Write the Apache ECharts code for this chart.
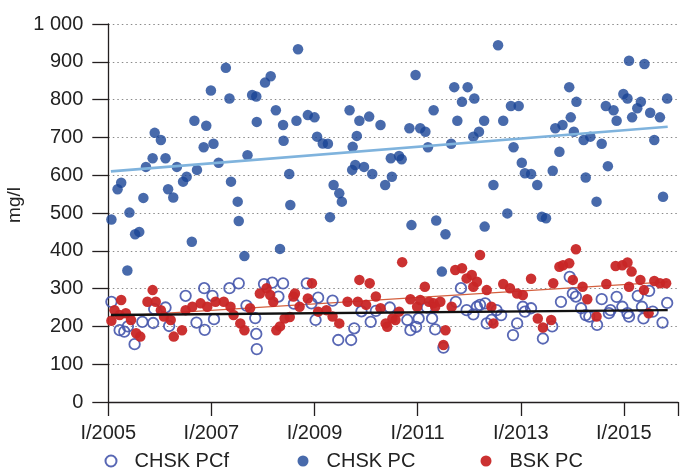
<!DOCTYPE html>
<html>
<head>
<meta charset="utf-8">
<script src="https://cdn.jsdelivr.net/npm/echarts@6/dist/echarts.min.js"></script>
<style>
html,body{margin:0;padding:0;background:#fff;}
#chart{width:681px;height:472px;}
</style>
</head>
<body>
<div id="chart"></div>
<script>
// ---- data (decimal year, mg/l) ----
const baseYear = 2005;
const xTickYears = [2005, 2007, 2009, 2011, 2013, 2015];
const yTickLabels = {0:'0',100:'100',200:'200',300:'300',400:'400',500:'500',600:'600',700:'700',800:'800',900:'900',1000:'1 000'};
const seriesNames = ['CHSK PCf', 'CHSK PC', 'BSK PC'];

const chskPC = [
[2005.06,483],[2005.18,563],[2005.25,580],[2005.37,348],[2005.41,501],[2005.52,444],[2005.60,450],[2005.68,540],
[2005.73,622],[2005.86,645],[2005.90,712],[2006.02,693],[2006.11,645],[2006.16,563],[2006.26,541],[2006.33,622],
[2006.45,583],[2006.52,596],[2006.62,424],[2006.67,744],[2006.72,614],[2006.85,674],[2006.90,731],[2006.99,824],
[2007.04,683],[2007.14,633],[2007.28,884],[2007.35,803],[2007.38,583],[2007.51,530],[2007.53,479],[2007.64,386],
[2007.70,653],[2007.79,812],[2007.87,808],[2007.88,741],[2008.04,845],[2008.15,862],[2008.25,772],[2008.33,405],
[2008.39,733],[2008.40,691],[2008.51,603],[2008.53,521],[2008.65,744],[2008.68,933],[2008.87,759],[2009.00,753],
[2009.05,702],[2009.16,684],[2009.26,683],[2009.30,489],[2009.37,574],[2009.48,552],[2009.53,530],[2009.68,772],
[2009.73,614],[2009.74,675],[2009.79,627],[2009.82,704],[2009.87,744],[2009.96,622],[2010.06,755],[2010.12,603],
[2010.28,733],[2010.37,574],[2010.48,645],[2010.50,596],[2010.64,651],[2010.69,642],[2010.84,724],[2010.88,468],
[2010.96,865],[2011.05,724],[2011.15,715],[2011.20,674],[2011.31,772],[2011.36,480],[2011.47,345],[2011.54,444],
[2011.65,683],[2011.71,833],[2011.77,744],[2011.86,794],[2011.97,833],[2012.08,702],[2012.10,803],[2012.19,715],
[2012.29,744],[2012.30,464],[2012.47,574],[2012.56,944],[2012.66,744],[2012.74,499],[2012.81,783],[2012.86,674],
[2012.96,783],[2013.02,633],[2013.08,605],[2013.20,603],[2013.32,574],[2013.41,490],[2013.49,486],[2013.62,612],
[2013.67,724],[2013.75,662],[2013.81,733],[2013.94,833],[2013.97,753],[2014.03,715],[2014.08,794],[2014.22,693],
[2014.26,594],[2014.35,702],[2014.47,530],[2014.57,683],[2014.65,783],[2014.69,624],[2014.80,772],[2014.86,744],
[2014.99,815],[2015.07,803],[2015.10,903],[2015.16,753],[2015.26,777],[2015.33,794],[2015.40,894],[2015.51,765],
[2015.59,693],[2015.70,753],[2015.76,543],[2015.84,803]
];

const chskPCf = [
[2005.06,265],[2005.22,190],[2005.31,186],[2005.38,200],[2005.51,153],[2005.66,212],[2005.87,209],[2005.89,246],
[2006.11,250],[2006.18,201],[2006.50,281],[2006.71,210],[2006.86,301],[2006.87,191],[2007.02,281],[2007.05,219],
[2007.35,301],[2007.53,314],[2007.68,255],[2007.85,222],[2007.87,180],[2007.88,140],[2008.02,312],[2008.18,316],
[2008.30,279],[2008.39,314],[2008.60,260],[2008.85,314],[2008.94,261],[2009.02,217],[2009.07,276],[2009.35,268],
[2009.46,164],[2009.71,164],[2009.77,195],[2009.91,240],[2010.09,212],[2010.19,241],[2010.46,250],[2010.80,217],
[2010.86,190],[2010.97,199],[2011.02,221],[2011.18,250],[2011.28,221],[2011.34,192],[2011.50,144],[2011.74,265],
[2011.84,301],[2011.95,243],[2012.08,232],[2012.15,252],[2012.21,257],[2012.31,261],[2012.34,208],[2012.43,217],
[2012.53,243],[2012.62,230],[2012.85,177],[2012.93,208],[2013.04,252],[2013.08,239],[2013.20,248],[2013.43,168],
[2013.61,200],[2013.78,265],[2013.95,331],[2014.01,287],[2014.07,279],[2014.17,248],[2014.26,230],[2014.33,226],
[2014.48,204],[2014.57,272],[2014.71,235],[2014.74,243],[2014.86,278],[2014.97,252],[2015.07,235],[2015.10,226],
[2015.27,281],[2015.35,252],[2015.38,221],[2015.49,294],[2015.56,239],[2015.75,210],[2015.84,262]
];

const bskPC = [
[2005.06,215],[2005.12,243],[2005.22,230],[2005.25,270],[2005.34,235],[2005.44,217],[2005.54,182],[2005.62,173],
[2005.76,265],[2005.86,296],[2005.92,265],[2006.02,243],[2006.08,226],[2006.21,217],[2006.27,173],[2006.43,190],
[2006.50,243],[2006.63,252],[2006.79,261],[2006.92,252],[2007.08,265],[2007.24,265],[2007.37,252],[2007.43,230],
[2007.56,208],[2007.64,190],[2007.75,248],[2007.94,287],[2008.07,301],[2008.14,283],[2008.20,265],[2008.26,190],
[2008.33,200],[2008.42,221],[2008.52,225],[2008.59,279],[2008.62,287],[2008.71,252],[2008.87,274],[2008.95,314],
[2009.07,239],[2009.23,243],[2009.35,226],[2009.48,208],[2009.64,265],[2009.84,265],[2009.87,323],[2010.00,257],
[2010.07,314],[2010.19,279],[2010.28,248],[2010.38,208],[2010.41,199],[2010.51,221],[2010.57,217],[2010.64,239],
[2010.70,370],[2010.86,272],[2010.99,252],[2011.05,270],[2011.14,305],[2011.22,265],[2011.31,261],[2011.34,252],
[2011.44,265],[2011.50,151],[2011.54,190],[2011.66,252],[2011.73,349],[2011.86,354],[2011.95,327],[2012.05,336],
[2012.08,305],[2012.15,318],[2012.21,389],[2012.34,296],[2012.43,252],[2012.47,208],[2012.66,312],[2012.79,301],
[2012.93,287],[2013.04,283],[2013.20,326],[2013.33,221],[2013.43,197],[2013.59,217],[2013.63,314],[2013.75,358],
[2013.82,362],[2013.94,367],[2014.01,323],[2014.07,404],[2014.20,305],[2014.29,272],[2014.47,226],[2014.66,312],
[2014.84,360],[2014.97,362],[2015.07,369],[2015.10,305],[2015.15,345],[2015.32,323],[2015.39,296],[2015.48,235],
[2015.59,320],[2015.70,314],[2015.82,314]
];

// linear trend endpoints
const trendChskPC = [[2005.05,610],[2015.85,728]];
const trendChskPCf = [[2005.05,230],[2015.85,243]];
const trendBskPC = [[2005.05,226],[2015.85,318]];

// ---- chart ----
const toXY = arr => arr.map(p => [p[0] - baseYear, p[1]]);
const txt = '#222';
const font = 'Liberation Sans, Arial, Helvetica, sans-serif';

const colBlue = '#1a4596';
const colRed = '#c82626';
const colOpen = '#4656ac';

const chart = echarts.init(document.getElementById('chart'), null, {renderer: 'canvas'});

function legendAt(name, left) {
  return {
    data: [{name: name, icon: 'circle'}],
    left: left, top: 451, padding: 0,
    itemWidth: 11, itemHeight: 11,
    textStyle: {fontSize: 20, color: txt, fontFamily: font, padding: [0, 0, 0, 13]},
    selectedMode: false
  };
}

chart.setOption({
  animation: false,
  backgroundColor: '#fff',
  textStyle: {fontFamily: font},
  grid: {left: 108.3, right: 1, top: 24, bottom: 70, containLabel: false},
  legend: [legendAt(seriesNames[0], 104.5), legendAt(seriesNames[1], 297.5), legendAt(seriesNames[2], 480.5)],
  xAxis: {
    type: 'value', min: 0, max: 11.05, interval: 2,
    axisLine: {show: true, onZero: false, lineStyle: {color: '#231f20', width: 1.3}},
    axisTick: {show: true, length: 14, lineStyle: {color: '#231f20', width: 1.3}},
    axisLabel: {
      margin: 21, fontSize: 20, color: txt, fontFamily: font,
      formatter: v => (xTickYears.indexOf(baseYear + v) >= 0 ? 'I/' + (baseYear + v) : '')
    },
    splitLine: {show: false}
  },
  yAxis: {
    type: 'value', min: 0, max: 1000, interval: 100,
    axisLine: {show: true, lineStyle: {color: '#231f20', width: 1.3}},
    axisTick: {show: true, length: 16, lineStyle: {color: '#231f20', width: 1.3}},
    axisLabel: {margin: 25, fontSize: 20, color: txt, fontFamily: font, formatter: v => yTickLabels[v]},
    splitLine: {show: true, lineStyle: {color: '#8a8a8a', type: [1.5, 3], width: 1}}
  },
  graphic: [{
    type: 'text', left: 5, top: 187, rotation: Math.PI / 2,
    style: {text: 'mg/l', fontSize: 19, fill: txt, fontFamily: font}
  }],
  series: [
    {
      name: 'trendBSK', type: 'line', data: toXY(trendBskPC), symbol: 'none', silent: true, z: 1,
      lineStyle: {color: '#d4603f', width: 1.2}
    },
    {
      name: seriesNames[0], type: 'scatter', data: toXY(chskPCf), symbol: 'circle', symbolSize: 10.5, z: 2,
      itemStyle: {color: 'rgba(255,255,255,0)', borderColor: colOpen, borderWidth: 1.8, opacity: 0.9}
    },
    {
      name: seriesNames[2], type: 'scatter', data: toXY(bskPC), symbol: 'circle', symbolSize: 10.5, z: 3,
      itemStyle: {color: colRed, opacity: 0.95}
    },
    {
      name: seriesNames[1], type: 'scatter', data: toXY(chskPC), symbol: 'circle', symbolSize: 10.5, z: 3,
      itemStyle: {color: colBlue}
    },
    {
      name: 'trendCHSKPCf', type: 'line', data: toXY(trendChskPCf), symbol: 'none', silent: true, z: 5,
      lineStyle: {color: '#111', width: 2.4}
    },
    {
      name: 'trendCHSKPC', type: 'line', data: toXY(trendChskPC), symbol: 'none', silent: true, z: 5,
      lineStyle: {color: '#7fb3dd', width: 2.6}
    }
  ]
});
</script>
</body>
</html>
